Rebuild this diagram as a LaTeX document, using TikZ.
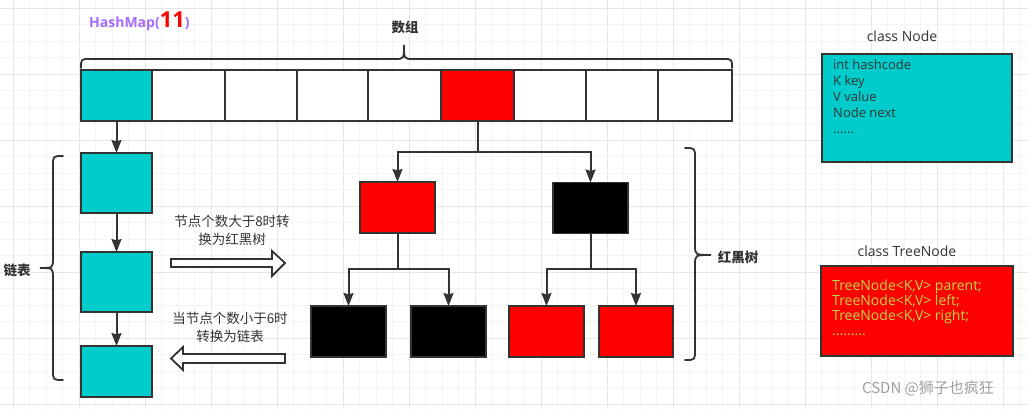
\documentclass[tikz,border=0pt]{standalone}
\usepackage{fontspec}
\setmainfont{Open Sans}
\newfontfamily\cjk{Noto Sans CJK SC}
\usetikzlibrary{arrows.meta}
\definecolor{cy}{RGB}{0,204,204}
\definecolor{rd}{RGB}{255,0,0}
\definecolor{ln}{RGB}{51,51,51}
\definecolor{purp}{RGB}{166,107,255}
\definecolor{ygreen}{RGB}{185,215,75}
\definecolor{gminor}{RGB}{244,244,244}
\definecolor{gmajor}{RGB}{230,230,230}
\begin{document}
\begin{tikzpicture}[x=1pt,y=-1pt,
  cell/.style={draw=ln,line width=1.5pt,inner sep=0pt,outer sep=0pt,minimum height=51pt},
  box/.style={draw=ln,line width=1.5pt,inner sep=0pt,outer sep=0pt,minimum width=75pt,minimum height=51pt},
  conn/.style={draw=ln,line width=2pt,-{Stealth[length=13pt,width=10pt,inset=1.5pt]}},
  brace/.style={draw=ln,line width=1.8pt,line cap=round},
  hollow/.style={draw=ln,line width=1.8pt,fill=white,line join=miter},
  lbl/.style={font=\cjk\fontsize{13.5}{16}\selectfont\bfseries,text=ln,inner sep=0pt},
  note/.style={font=\cjk\fontsize{13.5}{18}\selectfont,text=ln,align=center,inner sep=0pt},
  title/.style={font=\fontsize{14}{16}\selectfont,text=ln,inner sep=0pt},
  code/.style={font=\fontsize{13}{16}\selectfont,align=left,inner sep=0pt,anchor=north west}]
\useasboundingbox (0,0) rectangle (1028,409);
\fill[white] (0,0) rectangle (1028,409);
% grid
\foreach \i in {0,...,62} {\draw[gminor,line width=0.6pt] ({13+\i*16.5},0) -- ({13+\i*16.5},409);}
\foreach \i in {0,...,25} {\draw[gminor,line width=0.6pt] (0,{8+\i*16.5}) -- (1028,{8+\i*16.5});}
\foreach \i in {0,...,15} {\draw[gmajor,line width=0.6pt] ({13+\i*66},0) -- ({13+\i*66},409);}
\foreach \i in {0,...,6} {\draw[gmajor,line width=0.6pt] (0,{8+\i*66}) -- (1028,{8+\i*66});}

% title
\node[inner sep=0pt,anchor=west,font=\bfseries\fontsize{14}{16}\selectfont] (hm) at (89,21)
  {\textcolor{purp}{HashMap(}\textcolor{rd}{\fontsize{22}{22}\selectfont 11}\textcolor{purp}{)}};

% array
\node[cell,fill=cy,minimum width=71pt] (c1) at (116.5,95.5) {};
\node[cell,fill=white,minimum width=73pt] (c2) at (188.5,95.5) {};
\node[cell,fill=white,minimum width=72pt] (c3) at (261,95.5) {};
\node[cell,fill=white,minimum width=71pt] (c4) at (332.5,95.5) {};
\node[cell,fill=white,minimum width=73pt] (c5) at (404.5,95.5) {};
\node[cell,fill=rd,minimum width=73pt] (c6) at (477.5,95.5) {};
\node[cell,fill=white,minimum width=72pt] (c7) at (550,95.5) {};
\node[cell,fill=white,minimum width=72pt] (c8) at (622,95.5) {};
\node[cell,fill=white,minimum width=74pt] (c9) at (695,95.5) {};

% top brace
\draw[brace] (81,68) .. controls (81,59) .. (90,59) -- (395,59) .. controls (404,59) .. (404,45)
  .. controls (404,59) .. (413,59) -- (723,59) .. controls (732,59) .. (732,68);
\node[lbl] (arr) at (405,27) {数组};

% linked list
\node[box,fill=cy,minimum width=71pt,minimum height=60pt] (l1) at (116.5,183) {};
\node[box,fill=cy,minimum width=71pt,minimum height=60pt] (l2) at (116.5,282) {};
\node[box,fill=cy,minimum width=71pt,minimum height=51pt] (l3) at (116.5,371.5) {};
\draw[conn] (c1.south) -- (l1.north);
\draw[conn] (l1.south) -- (l2.north);
\draw[conn] (l2.south) -- (l3.north);

% left brace
\draw[brace] (63,156) .. controls (53,156) .. (53,166) -- (53,258) .. controls (53,268) .. (40,268)
  .. controls (53,268) .. (53,278) -- (53,370) .. controls (53,380) .. (63,380);
\node[lbl] (ll) at (17,270) {链表};

% tree
\node[box,fill=rd] (t1) at (397.5,207.5) {};
\node[box,fill=black] (t2) at (590.5,208) {};
\node[box,fill=black] (t3) at (348.5,331.5) {};
\node[box,fill=black] (t4) at (448.5,331.5) {};
\node[box,fill=rd] (t5) at (546.5,331.5) {};
\node[box,fill=rd,minimum width=74pt] (t6) at (636,331.5) {};
\draw[conn] (c6.south) -- ++(0,31) -| (t1.north);
\draw[conn] (c6.south) -- ++(0,31) -| (t2.north);
\draw[conn] (t1.south) -- ++(0,36) -| (t3.north);
\draw[conn] (t1.south) -- ++(0,36) -| (t4.north);
\draw[conn] (t2.south) -- ++(0,35.5) -| (t5.north);
\draw[conn] (t2.south) -- ++(0,35.5) -| (t6.north);

% right brace
\draw[brace] (685,148) .. controls (695,148) .. (695,158) -- (695,245) .. controls (695,255) .. (711,255)
  .. controls (695,255) .. (695,265) -- (695,350) .. controls (695,360) .. (685,360);
\node[lbl] (rb) at (738,257) {红黑树};

% conversion arrows
\node[note] (n1) at (232,230.5) {节点个数大于8时转\\换为红黑树};
\draw[hollow] (171,259) -- (272,259) -- (272,251) -- (285,263) -- (272,276) -- (272,267) -- (171,267) -- cycle;
\node[note] (n2) at (230,327.5) {当节点个数小于6时\\转换为链表};
\draw[hollow] (285,354) -- (183,354) -- (183,347) -- (171,358.5) -- (183,370) -- (183,363) -- (285,363) -- cycle;

% class Node
\node[title] (cnt) at (902,36) {class Node};
\node[draw=ln,line width=1.5pt,fill=cy,inner sep=0pt,minimum width=190pt,minimum height=108pt] (cn) at (917,108) {};
\node[code,text=ln] (cnx) at (833,59) {int hashcode\\K key\\V value\\Node next\\......};

% class TreeNode
\node[title] (ctt) at (907,251) {class TreeNode};
\node[draw=ln,line width=1.5pt,fill=rd,inner sep=0pt,minimum width=192pt,minimum height=90pt] (ct) at (917,311) {};
\node[code,text=ygreen,font=\fontsize{14}{15}\selectfont] (ctx) at (832,279.5) {TreeNode<K,V> parent;\\TreeNode<K,V> left;\\TreeNode<K,V> right;\\.........};

% watermark
\node[inner sep=0pt,font=\cjk\fontsize{15}{16}\selectfont,text=gray!75] (wm) at (928,388) {CSDN @狮子也疯狂};
\end{tikzpicture}
\end{document}
